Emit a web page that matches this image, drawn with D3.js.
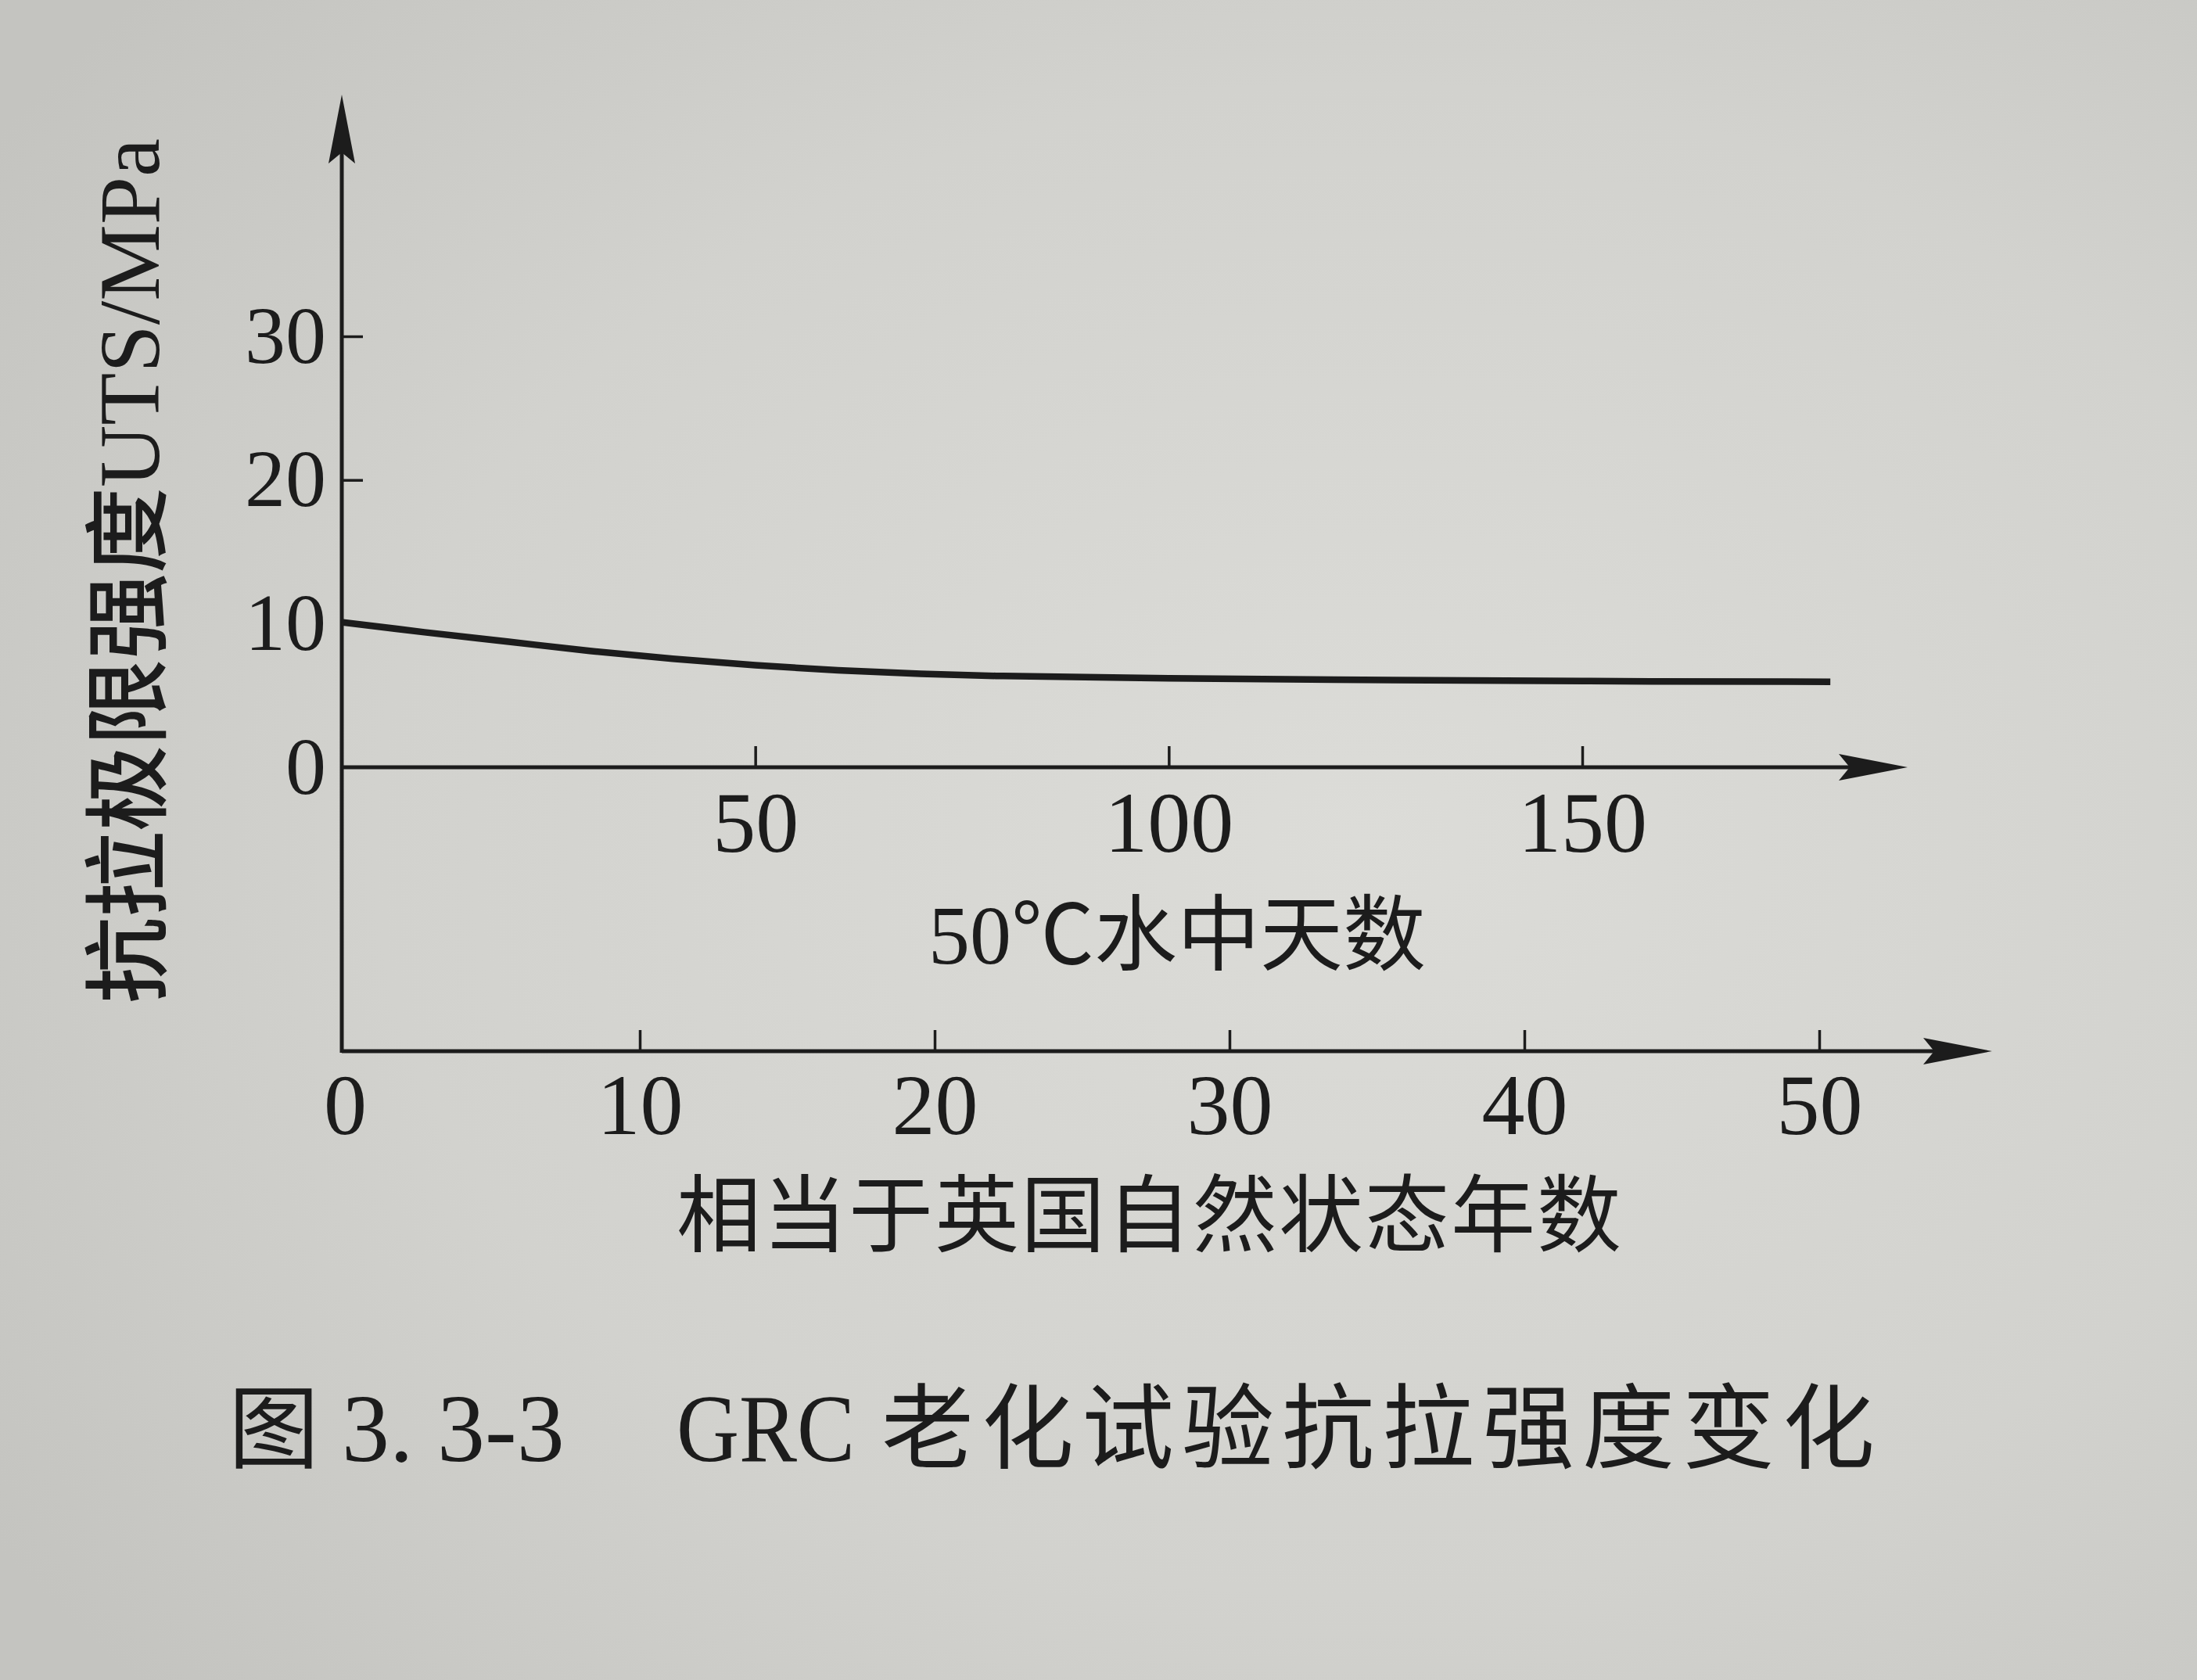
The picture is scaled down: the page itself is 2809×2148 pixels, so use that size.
<!DOCTYPE html>
<html>
<head>
<meta charset="utf-8">
<script src="https://cdn.jsdelivr.net/npm/d3@7"></script>
<style>
  html, body { margin: 0; padding: 0; background: #d2d2ce; }
  svg { display: block; }
</style>
</head>
<body>
<svg id="chart" width="2809" height="2148"></svg>
<script>
// ---------------- data ----------------
const days = [0, 10, 20, 30, 40, 50, 60, 70, 80, 100, 120, 150, 180];
const uts  = [10.1, 9.4, 8.75, 8.1, 7.55, 7.1, 6.75, 6.5, 6.35, 6.2, 6.1, 6.0, 5.95];
const yTicks = [0, 10, 20, 30];
const dayTicks = [50, 100, 150];
const yearTicks = [0, 10, 20, 30, 40, 50];
const yLabelCjk = "抗拉极限强度";
const yLabelLatin = "UTS/MPa";
const dayLabelNum = "50";
const dayLabelText = "℃水中天数";
const yearLabel = "相当于英国自然状态年数";
const captionParts = ["图", "3. 3-3", "GRC", "老化试验抗拉强度变化"];

// ---------------- layout ----------------
const W = 2809, H = 2148;
const axisX = 437;          // vertical axis position
const upperY = 981;         // days axis (value 0)
const lowerY = 1344;        // years axis
const yTop = 121;           // arrow tip of vertical axis
const upperTip = 2439;
const lowerTip = 2547;
const ink = "#1c1c1c";
const latin = "'Liberation Serif', 'Times New Roman', serif";
const cjk = "'Noto Sans CJK SC', 'Noto Sans', sans-serif";

const svg = d3.select("#chart");

// background (paper)
const defs = svg.append("defs");
const grad = defs.append("radialGradient").attr("id", "paper")
  .attr("cx", "0.62").attr("cy", "0.5").attr("r", "0.75");
grad.append("stop").attr("offset", "0").attr("stop-color", "#dcdcd8");
grad.append("stop").attr("offset", "0.6").attr("stop-color", "#d2d2ce");
grad.append("stop").attr("offset", "1").attr("stop-color", "#c4c4c0");
svg.append("rect").attr("width", W).attr("height", H).attr("fill", "url(#paper)");

// scales
const y = d3.scaleLinear().domain([0, 30]).range([upperY, 430]);
const xDays = d3.scaleLinear().domain([0, 150]).range([axisX, 2023]);
const xYears = d3.scaleLinear().domain([0, 50]).range([axisX + 4, 2326]);

function arrow(g, x, yy, angle) {
  g.append("path")
    .attr("d", "M0,0 L-88,-17 L-74,0 L-88,17 Z")
    .attr("fill", ink)
    .attr("transform", `translate(${x},${yy}) rotate(${angle})`);
}

// axis lines
const axes = svg.append("g").attr("stroke", ink).attr("stroke-width", 5).attr("fill", "none");
axes.append("line").attr("x1", axisX).attr("y1", lowerY + 2).attr("x2", axisX).attr("y2", yTop + 40);
axes.append("line").attr("x1", axisX).attr("y1", upperY).attr("x2", upperTip - 40).attr("y2", upperY);
axes.append("line").attr("x1", axisX).attr("y1", lowerY).attr("x2", lowerTip - 40).attr("y2", lowerY);
const arrows = svg.append("g");
arrow(arrows, axisX, yTop, -90);
arrow(arrows, upperTip, upperY, 0);
arrow(arrows, lowerTip, lowerY, 0);

function styleAxis(g, fontSize) {
  g.select(".domain").remove();
  g.selectAll(".tick line").attr("stroke", ink).attr("stroke-width", 3.5);
  g.selectAll(".tick text")
    .attr("fill", ink)
    .style("font-family", latin)
    .style("font-size", fontSize + "px");
}

// vertical axis ticks
const gy = svg.append("g").attr("transform", `translate(${axisX},0)`)
  .call(d3.axisLeft(y).tickValues(yTicks).tickSize(-27).tickPadding(20).tickFormat(d3.format("d")));
styleAxis(gy, 104);
gy.selectAll(".tick").filter(d => d === 0).select("line").remove();

// days axis ticks
const gd = svg.append("g").attr("transform", `translate(0,${upperY})`)
  .call(d3.axisBottom(xDays).tickValues(dayTicks).tickSize(-27).tickPadding(30).tickFormat(d3.format("d")));
styleAxis(gd, 110);

// years axis ticks
const gyr = svg.append("g").attr("transform", `translate(0,${lowerY})`)
  .call(d3.axisBottom(xYears).tickValues(yearTicks).tickSize(-27).tickPadding(28).tickFormat(d3.format("d")));
styleAxis(gyr, 110);
gyr.selectAll(".tick").filter(d => d === 0).select("line").remove();

// curve
const line = d3.line()
  .x((d, i) => xDays(d))
  .y((d, i) => y(uts[i]))
  .curve(d3.curveMonotoneX);
svg.append("path")
  .datum(days)
  .attr("d", line)
  .attr("fill", "none")
  .attr("stroke", ink)
  .attr("stroke-width", 8.5)
  .attr("stroke-linecap", "butt");

// axis titles
const yl = svg.append("text")
  .attr("transform", `translate(203,730) rotate(-90)`)
  .attr("text-anchor", "middle")
  .attr("fill", ink)
  .style("font-size", "110px");
yl.append("tspan").style("font-family", cjk).style("font-weight", 500).text(yLabelCjk);
yl.append("tspan").style("font-family", latin).text(yLabelLatin);

const dl = svg.append("text")
  .attr("x", 1505).attr("y", 1232)
  .attr("text-anchor", "middle")
  .attr("fill", ink)
  .style("font-size", "106px");
dl.append("tspan").style("font-family", latin).text(dayLabelNum);
dl.append("tspan").style("font-family", cjk).style("font-weight", 400).text(dayLabelText);

svg.append("text")
  .attr("x", 1470).attr("y", 1592)
  .attr("text-anchor", "middle")
  .attr("fill", ink)
  .style("font-family", cjk)
  .style("font-weight", 400)
  .style("font-size", "108px")
  .style("letter-spacing", "2px")
  .text(yearLabel);

// caption
const capY = 1868;
const cap = svg.append("g").attr("fill", ink);
cap.append("text").attr("x", 292).attr("y", capY)
  .style("font-family", cjk).style("font-weight", 400).style("font-size", "116px").text(captionParts[0]);
cap.append("text").attr("x", 437).attr("y", capY)
  .style("font-family", latin).style("font-size", "122px").text(captionParts[1]);
cap.append("text").attr("x", 865).attr("y", capY)
  .style("font-family", latin).style("font-size", "122px")
  .attr("textLength", 228).attr("lengthAdjust", "spacingAndGlyphs").text(captionParts[2]);
cap.append("text").attr("x", 1127).attr("y", capY)
  .style("font-family", cjk).style("font-weight", 400).style("font-size", "118px")
  .attr("textLength", 1270).attr("lengthAdjust", "spacing").text(captionParts[3]);
</script>
</body>
</html>
